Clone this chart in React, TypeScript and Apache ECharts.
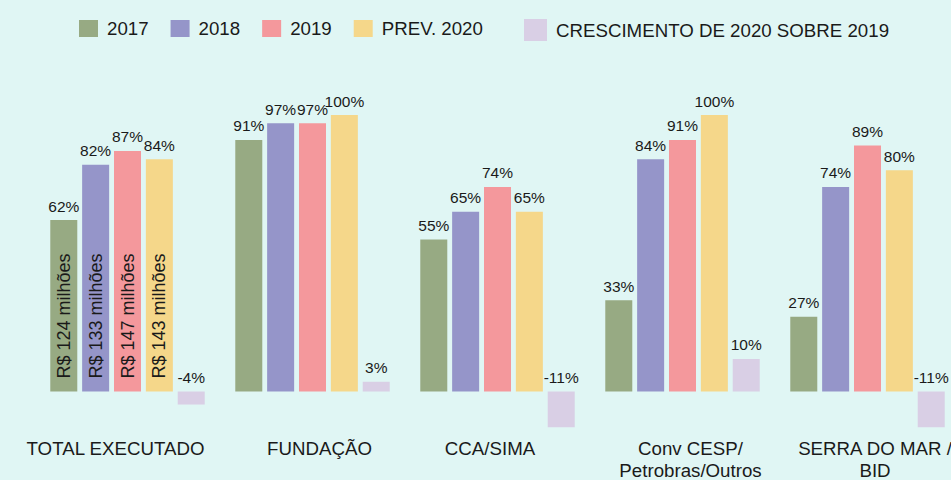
import React, { useEffect, useRef } from "react";
import * as echarts from "echarts";

const categories = [
  "TOTAL EXECUTADO",
  "FUNDAÇÃO",
  "CCA/SIMA",
  "Conv CESP/\nPetrobras/Outros",
  "SERRA DO MAR /\nBID",
];
const seriesNames = ["2017", "2018", "2019", "PREV. 2020"];
const growthName = "CRESCIMENTO DE 2020 SOBRE 2019";
const v2017 = [62, 91, 55, 33, 27];
const v2018 = [82, 97, 65, 84, 74];
const v2019 = [87, 97, 74, 91, 89];
const v2020 = [84, 100, 65, 100, 80];
const growth = [-4, 3, -11, 10, -11];
const totalLabels = ["R$ 124 milhões", "R$ 133 milhões", "R$ 147 milhões", "R$ 143 milhões"];

const colors = ["#97AA83", "#9595C9", "#F4989C", "#F5D78A"];
const growthColor = "#D9CFE5";
const FONT = "Liberation Sans, Arial, sans-serif";
const TXT = "#1a1a1a";
// horizontal nudges of the category labels (px, + = right)
const labelNudge = [-12, 7, -7.5, 8, 7.5];

export default function App() {
  const ref = useRef<HTMLDivElement>(null);
  useEffect(() => {
    document.body.style.margin = "0";
    if (!ref.current) return;
    const chart = echarts.init(ref.current, undefined, { renderer: "svg" });
    const values = [v2017, v2018, v2019, v2020];
    const barCommon = {
      type: "bar" as const,
      barWidth: 27,
      barGap: "18%",
    };
    const pctLabel = {
      show: true,
      position: "top",
      distance: 6,
      formatter: "{c}%",
      fontSize: 15.5,
      fontFamily: FONT,
      color: TXT,
    };
    const mainSeries: any[] = values.map((vals, i) => ({
      ...barCommon,
      name: seriesNames[i],
      data: vals,
      itemStyle: { color: colors[i] },
      label: pctLabel,
    }));
    mainSeries.push({
      ...barCommon,
      name: growthName,
      yAxisIndex: 1,
      data: growth,
      itemStyle: { color: growthColor },
      label: pctLabel,
    });
    const innerSeries: any[] = values.map((vals, i) => ({
      ...barCommon,
      name: "inner" + i,
      xAxisIndex: 1,
      silent: true,
      data: vals.map((v, j) => (j === 0 ? v : null)),
      itemStyle: { color: "rgba(0,0,0,0)" },
      label: {
        show: true,
        position: "insideBottom",
        rotate: 90,
        distance: 13,
        align: "left",
        verticalAlign: "middle",
        formatter: () => totalLabels[i],
        fontSize: 18,
        fontFamily: FONT,
        color: TXT,
      },
    }));
    innerSeries.push({
      ...barCommon,
      name: "inner4",
      xAxisIndex: 1,
      silent: true,
      data: [null, null, null, null, null],
      itemStyle: { color: "rgba(0,0,0,0)" },
    });

    const catData = categories.map((c, i) => {
      const n = labelNudge[i];
      return {
        value: c,
        textStyle: { padding: n >= 0 ? [0, 0, 0, 2 * n] : [0, -2 * n, 0, 0] },
      };
    });

    chart.setOption({
      animation: false,
      backgroundColor: "#E0F6F4",
      textStyle: { fontFamily: FONT },
      legend: [
        {
          data: seriesNames,
          left: 74,
          top: 14,
          itemWidth: 19,
          itemHeight: 17,
          itemGap: 22,
          icon: "rect",
          textStyle: { fontSize: 18.7, color: TXT, fontFamily: FONT, padding: [0, 0, 0, 4] },
        },
        {
          data: [growthName],
          left: 519,
          top: 14,
          itemWidth: 23,
          itemHeight: 22,
          icon: "rect",
          textStyle: { fontSize: 18.7, color: TXT, fontFamily: FONT, padding: [0, 0, 0, 4] },
        },
      ],
      grid: {
        left: 35,
        width: 925,
        top: 115,
        height: 318,
        containLabel: false,
        outerBoundsMode: "none",
      },
      xAxis: [
        {
          type: "category",
          data: catData,
          axisLine: { show: false },
          axisTick: { show: false },
          axisLabel: {
            margin: 4,
            fontSize: 18.7,
            lineHeight: 22,
            color: TXT,
            fontFamily: FONT,
            interval: 0,
            hideOverlap: false,
          },
        },
        {
          type: "category",
          data: categories,
          show: false,
        },
      ],
      yAxis: [
        { type: "value", min: -15, max: 100, show: false },
        { type: "value", min: -12.75, max: 85, show: false },
      ],
      series: [...mainSeries, ...innerSeries],
    });
    return () => chart.dispose();
  }, []);
  return <div ref={ref} style={{ width: 951, height: 480 }} />;
}
